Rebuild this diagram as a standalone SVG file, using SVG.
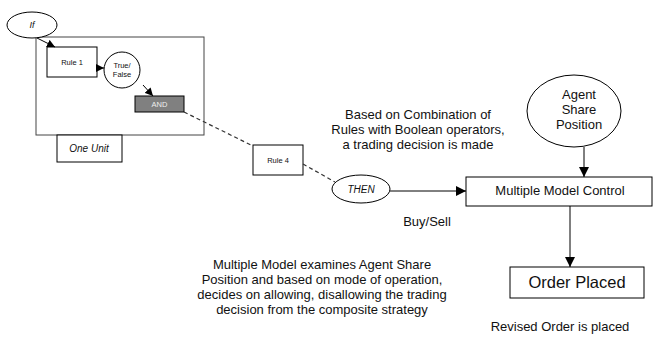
<svg xmlns="http://www.w3.org/2000/svg" width="654" height="338" viewBox="0 0 654 338">
<style>
.s{fill:#fff;stroke:#000;stroke-width:1}
.t{font-family:"Liberation Sans",Arial,sans-serif;fill:#111;text-anchor:middle}
.c{fill:none;stroke:#000;stroke-width:1}
.d{fill:none;stroke:#333;stroke-width:1.2;stroke-dasharray:4,3}
</style>
<defs>
<marker id="a" viewBox="0 0 10 10" refX="10" refY="5" markerWidth="8" markerHeight="8" markerUnits="userSpaceOnUse" orient="auto"><path d="M0,0 L10,5 L0,10 z" fill="#000"/></marker>
<marker id="b" viewBox="0 0 10 10" refX="10" refY="5" markerWidth="10" markerHeight="10" markerUnits="userSpaceOnUse" orient="auto"><path d="M0,0 L10,5 L0,10 z" fill="#000"/></marker>
</defs>
<rect width="654" height="338" fill="#fff"/>
<g id="unit"><rect x="36" y="37" width="168" height="98" fill="none" stroke="#444" stroke-width="1"/></g>
<g id="oneunit"><rect class="s" x="57" y="135" width="65" height="27"/><text class="t" x="89" y="152" font-size="10" font-style="italic">One Unit</text></g>
<g id="if"><ellipse class="s" cx="32" cy="25" rx="25" ry="13"/><text class="t" x="32" y="28" font-size="9" font-style="italic">If</text></g>
<g id="rule1"><rect class="s" x="47" y="47" width="50" height="30"/><text class="t" x="72" y="65" font-size="7.5">Rule 1</text></g>
<g id="truefalse"><ellipse class="s" cx="122" cy="70" rx="18" ry="18"/><text class="t" x="122" y="68" font-size="7.5">True/</text><text class="t" x="122" y="77" font-size="7.5">False</text></g>
<g id="and"><rect x="135" y="96" width="49" height="16" fill="#808080" stroke="#000"/><text class="t" x="159.5" y="107" font-size="7.5" style="fill:#eee">AND</text></g>
<g id="rule4"><rect class="s" x="253" y="145" width="50" height="30"/><text class="t" x="278" y="163" font-size="7.5">Rule 4</text></g>
<g id="then"><ellipse class="s" cx="361" cy="189" rx="29" ry="14"/><text class="t" x="361" y="193" font-size="10" font-style="italic">THEN</text></g>
<g id="agent"><ellipse class="s" cx="574" cy="111" rx="47" ry="36"/><text class="t" x="579" y="99" font-size="13">Agent</text><text class="t" x="579" y="114" font-size="13">Share</text><text class="t" x="579" y="129" font-size="13">Position</text></g>
<g id="mmc"><rect class="s" x="466" y="177" width="186" height="29"/><text class="t" x="560" y="195" font-size="13">Multiple Model Control</text></g>
<g id="order"><rect class="s" x="510" y="267" width="134" height="31"/><text class="t" x="577" y="288" font-size="16.5">Order Placed</text></g>
<g id="connectors">
<line class="c" x1="37" y1="38" x2="55" y2="47" marker-end="url(#a)"/>
<line class="c" x1="97" y1="68" x2="104" y2="68" marker-end="url(#a)"/>
<line class="c" x1="143" y1="85" x2="153" y2="96" marker-end="url(#a)"/>
<line class="d" x1="184" y1="112" x2="253" y2="146"/>
<line class="d" x1="303" y1="164" x2="335" y2="182"/>
<line class="c" x1="390" y1="191" x2="466" y2="191" marker-end="url(#b)"/>
<line class="c" x1="584" y1="147" x2="584" y2="177" marker-end="url(#b)"/>
<line class="c" x1="570" y1="206" x2="570" y2="267" marker-end="url(#b)"/>
</g>
<g id="labels">
<text class="t" x="418" y="119" font-size="13">Based on Combination of</text>
<text class="t" x="418" y="134" font-size="13">Rules with Boolean operators,</text>
<text class="t" x="418" y="149" font-size="13">a trading decision is made</text>
<text class="t" x="427" y="226" font-size="13">Buy/Sell</text>
<text class="t" x="322" y="269" font-size="13">Multiple Model examines Agent Share</text>
<text class="t" x="322" y="284" font-size="13">Position and based on mode of operation,</text>
<text class="t" x="322" y="299" font-size="13">decides on allowing, disallowing the trading</text>
<text class="t" x="322" y="314" font-size="13">decision from the composite strategy</text>
<text class="t" x="560" y="331" font-size="13">Revised Order is placed</text>
</g>
</svg>
